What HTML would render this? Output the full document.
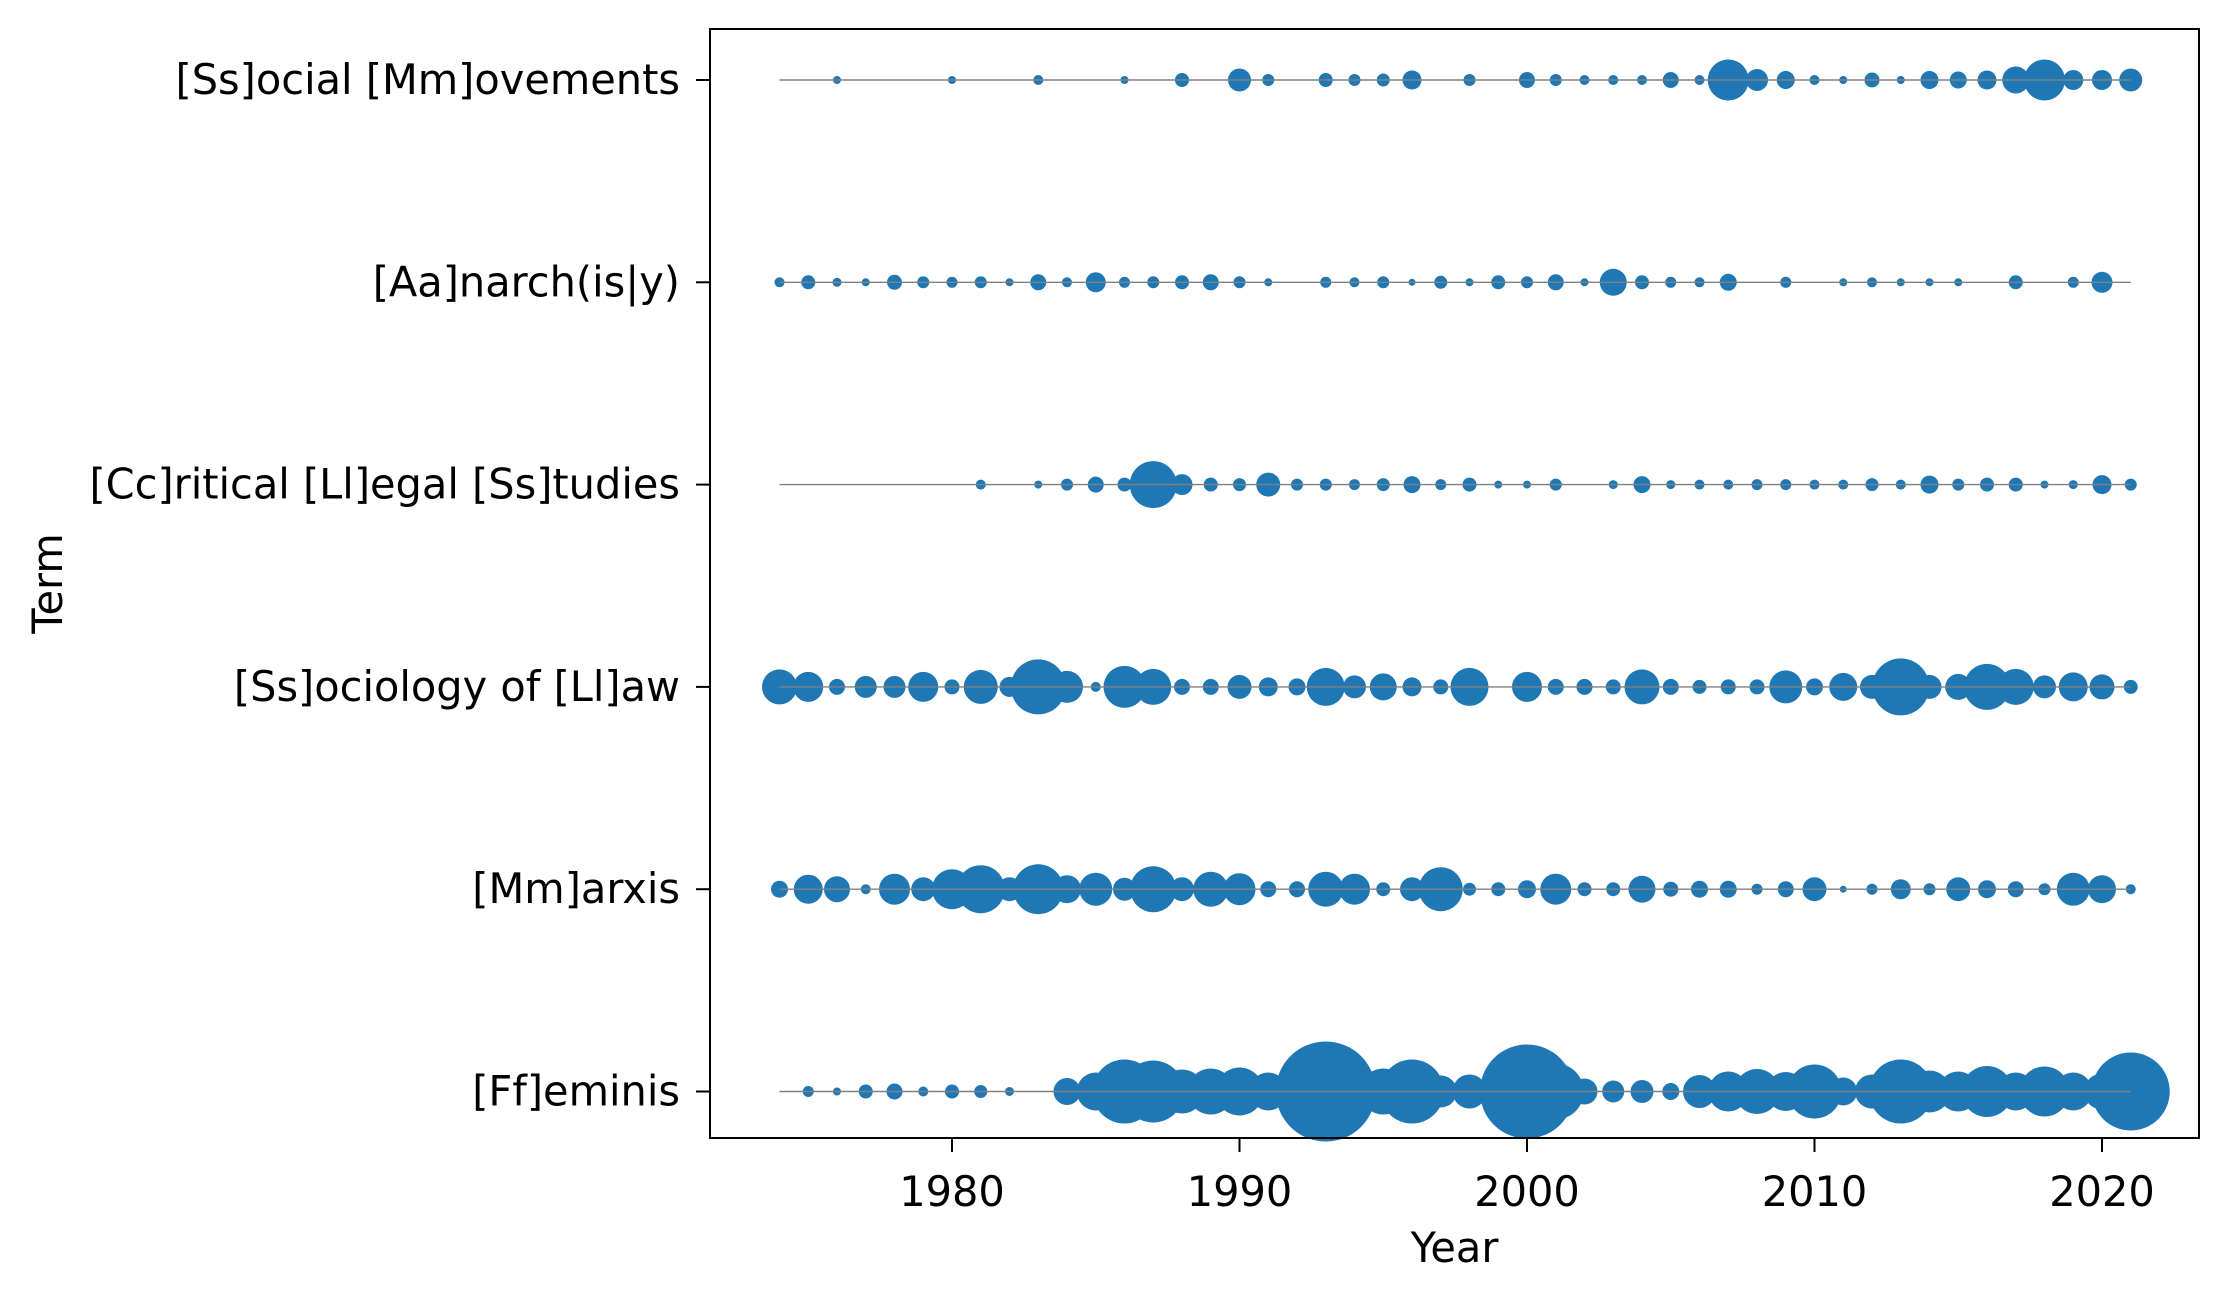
<!DOCTYPE html>
<html><head><meta charset="utf-8">
<style>
html,body{margin:0;padding:0;background:#fff;}
svg{display:block;font-family:"DejaVu Sans","Liberation Sans",sans-serif;}
</style></head>
<body>
<svg id="chart" width="2228" height="1298" viewBox="0 0 2228 1298" xmlns="http://www.w3.org/2000/svg">
<rect x="0" y="0" width="2228" height="1298" fill="#fff"/>
<g id="marks"></g>
<g id="axes"></g>
</svg>
<script>
const terms = ["[Ss]ocial [Mm]ovements","[Aa]narch(is|y)","[Cc]ritical [Ll]egal [Ss]tudies","[Ss]ociology of [Ll]aw","[Mm]arxis","[Ff]eminis"];
const xTicks = [1980,1990,2000,2010,2020];
const yearStart = 1974;
const yearEnd = 2021;
const socialYears = [1976,1980,1983,1986,1988,1990,1991,1993,1994,1995,1996,1998,2000,2001,2002,2003,2004,2005,2006,2007,2008,2009,2010,2011,2012,2013,2014,2015,2016,2017,2018,2019,2020,2021];
const socialVals = [4,4,5,4,7,11.5,6,7,6,6.5,9.5,6,8,6,5,5,5,8,5,20.5,11,9,5,4,7.5,4,9,8.5,9.5,13.5,20.5,10,10,11.5];
const anarchYears = [1974,1975,1976,1977,1978,1979,1980,1981,1982,1983,1984,1985,1986,1987,1988,1989,1990,1991,1993,1994,1995,1996,1997,1998,1999,2000,2001,2002,2003,2004,2005,2006,2007,2009,2011,2012,2013,2014,2015,2017,2019,2020];
const anarchVals = [5,7,4.5,4,7.5,6,5.5,6,4,8,5,10,5.5,6,7,8,6,4,5.5,5,6,3.5,6.5,4,7,6,8,4,13.5,7,5.5,5,8.5,5.5,4,5,4,4,4,7,5.5,10.5];
const clsYears = [1981,1983,1984,1985,1986,1987,1988,1989,1990,1991,1992,1993,1994,1995,1996,1997,1998,1999,2000,2001,2003,2004,2005,2006,2007,2008,2009,2010,2011,2012,2013,2014,2015,2016,2017,2018,2019,2020,2021];
const clsVals = [5,4,6,8,7,23.5,10.5,7,6.5,12,6,6,5.5,6.5,8.5,5.5,7,4,4,6,4.5,8.5,4.5,5,5,5.5,5.5,5,5,6.5,5,9,6,7,7,4,4.5,9.5,6];
const solYears = [1974,1975,1976,1977,1978,1979,1980,1981,1982,1983,1984,1985,1986,1987,1988,1989,1990,1991,1992,1993,1994,1995,1996,1997,1998,2000,2001,2002,2003,2004,2005,2006,2007,2008,2009,2010,2011,2012,2013,2014,2015,2016,2017,2018,2019,2020,2021];
const solVals = [17.5,15,8,11,11,15,7.5,17,10,27.5,16,5,21,18,8,8,12,9.5,8.5,19,11.5,13.5,9.5,7.5,19,15,8,8,7.5,17.5,8,7,7.5,7.5,16.5,8.5,14,12,28.5,12,13,23,18,11.5,14.5,12.5,7];
const marxYears = [1974,1975,1976,1977,1978,1979,1980,1981,1982,1983,1984,1985,1986,1987,1988,1989,1990,1991,1992,1993,1994,1995,1996,1997,1998,1999,2000,2001,2002,2003,2004,2005,2006,2007,2008,2009,2010,2011,2012,2013,2014,2015,2016,2017,2018,2019,2020,2021];
const marxVals = [8.5,14.5,13,5,15.5,12,20,24,12,25,14,16.5,11.5,23,12,17.5,16,8,8,17.5,15.5,7,12,22,6.5,7,9,15.5,7,7,13.5,7.5,8.5,8.5,5.5,8,12,3.5,5.5,10,6,12,9,8,6,16.5,14,5];
const femYears = [1975,1976,1977,1978,1979,1980,1981,1982,1984,1985,1986,1987,1988,1989,1990,1991,1992,1993,1994,1995,1996,1997,1998,1999,2000,2001,2002,2003,2004,2005,2006,2007,2008,2009,2010,2011,2012,2013,2014,2015,2016,2017,2018,2019,2020,2021];
const femVals = [5.5,4,7,8,5,7,6.5,4.5,13.5,19,32,31,22,23,24,19,15,50,20,23,32,16,17,18,47,28,13,11,11.5,8.5,16.5,20,22.5,19.5,27,14,17,32,21,20,25.5,19,25,19,18,39];
const seriesYears = [socialYears,anarchYears,clsYears,solYears,marxYears,femYears];
const seriesVals = [socialVals,anarchVals,clsVals,solVals,marxVals,femVals];

const NS="http://www.w3.org/2000/svg";
const L=710,R=2199,T=29,B=1138;
const FS='41.5px';
const xScale = y => 952 + (y-1980)*28.75;
const yScale = i => 80 + i*202.3;
const rScale = v => v;
const marks=document.getElementById('marks');
const axes=document.getElementById('axes');
function mk(tag,attrs,parent){const e=document.createElementNS(NS,tag);for(const k in attrs)e.setAttribute(k,attrs[k]);parent.appendChild(e);return e;}

terms.forEach((t,i)=>{
  const g=mk('g',{},marks);
  
  
  seriesYears[i].forEach((yr,j)=>{
    const c=mk('circle',{cx:xScale(yr),cy:yScale(i),r:rScale(seriesVals[i][j]),fill:'#1f77b4'},g);
    
    
  });
  const ln=mk('line',{x1:xScale(yearStart),x2:xScale(yearEnd),y1:yScale(i),y2:yScale(i),stroke:'#808080','stroke-width':1.4},g);
  
  
});

const frame=mk('rect',{x:L,y:T,width:R-L,height:B-T,fill:'none',stroke:'#000','stroke-width':2},axes);



xTicks.forEach(v=>{
  const x=xScale(v);
  const tk=mk('line',{x1:x,x2:x,y1:B,y2:B+14,stroke:'#000','stroke-width':2},axes);
  
  
  const tx=mk('text',{x:x,y:1206,'text-anchor':'middle','font-size':FS,fill:'#000'},axes);
  tx.textContent=v;
  
  
});
terms.forEach((t,i)=>{
  const y=yScale(i);
  const tk=mk('line',{x1:L-14,x2:L,y1:y,y2:y,stroke:'#000','stroke-width':2},axes);
  
  
  const tx=mk('text',{x:L-30,y:y+14,'text-anchor':'end','font-size':FS,fill:'#000'},axes);
  tx.textContent=t;
  
  
});
const xl=mk('text',{x:(L+R)/2,y:1262,'text-anchor':'middle','font-size':FS,fill:'#000'},axes);
xl.textContent='Year';


const yl=mk('text',{x:0,y:0,'text-anchor':'middle','font-size':FS,fill:'#000',transform:'translate(62,'+((T+B)/2)+') rotate(-90)'},axes);
yl.textContent='Term';


</script>
</body></html>
